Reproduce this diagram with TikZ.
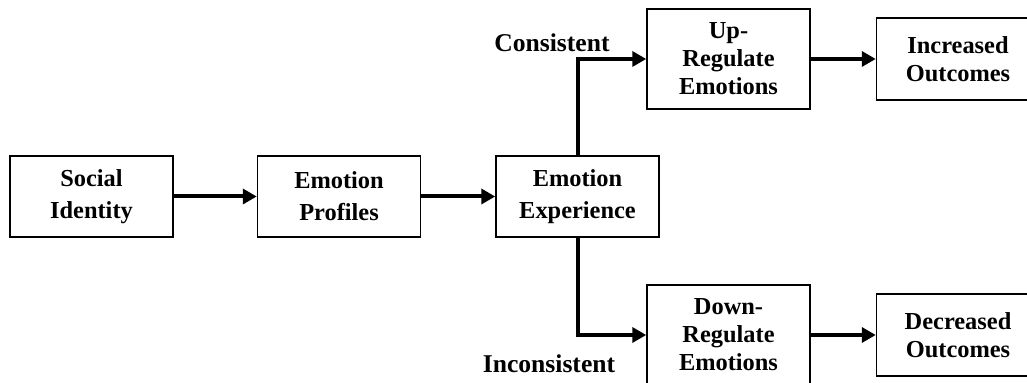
\documentclass[tikz,border=0pt]{standalone}
\usepackage{fontspec}
\setmainfont{Liberation Serif}
\usepackage{tikz}
\usetikzlibrary{positioning,arrows.meta}

\begin{document}
\begin{tikzpicture}[x=0.5pt,y=-0.5pt,-{Triangle[length=7pt,width=7.5pt]},line width=2pt,auto,node distance=41.5pt,main node/.style={rectangle,draw,line width=0.75pt,minimum width=81.5pt,minimum height=40.5pt,align=center,inner sep=2pt,font=\fontsize{12.2}{16}\selectfont\bfseries},label node/.style={font=\fontsize{12.8}{14}\selectfont\bfseries}]
			
			\useasboundingbox (0,0) rectangle (1027,383);
			
			\node[main node] (1) at (91.5,196.5) {Social\\Identity};
			\node[main node] (2) [right = of 1] {Emotion\\Profiles};
			\node[main node] (3) [right = 37pt of 2] {Emotion\\Experience};
			\node[main node, minimum height=50pt, font=\fontsize{12.2}{14}\selectfont\bfseries] (4) at (728.5,59) {Up-\\Regulate\\Emotions};
			\node[main node, minimum height=50pt, font=\fontsize{12.2}{14}\selectfont\bfseries] (5) at (728.5,335) {Down-\\Regulate\\Emotions};
			\node[main node, minimum height=41pt, font=\fontsize{12.2}{14}\selectfont\bfseries] (6) [right = 32.5pt of 4] {Increased\\Outcomes};
			\node[main node, minimum height=41pt, font=\fontsize{12.2}{14}\selectfont\bfseries] (7) [right = 32.5pt of 5] {Decreased\\Outcomes};
			
			\node[label node] (8) at (552,43) {Consistent};
			\node[label node] (9) at (549,364) {Inconsistent};
			
			\draw (1) to [] (2);
			\draw (2) to [] (3);
			\draw (3.north) |- (4.west);
			\draw (3.south) |- (5.west);
			\draw (4) to [] (6);
			\draw (5) to [] (7);
			\end{tikzpicture}
\end{document}
